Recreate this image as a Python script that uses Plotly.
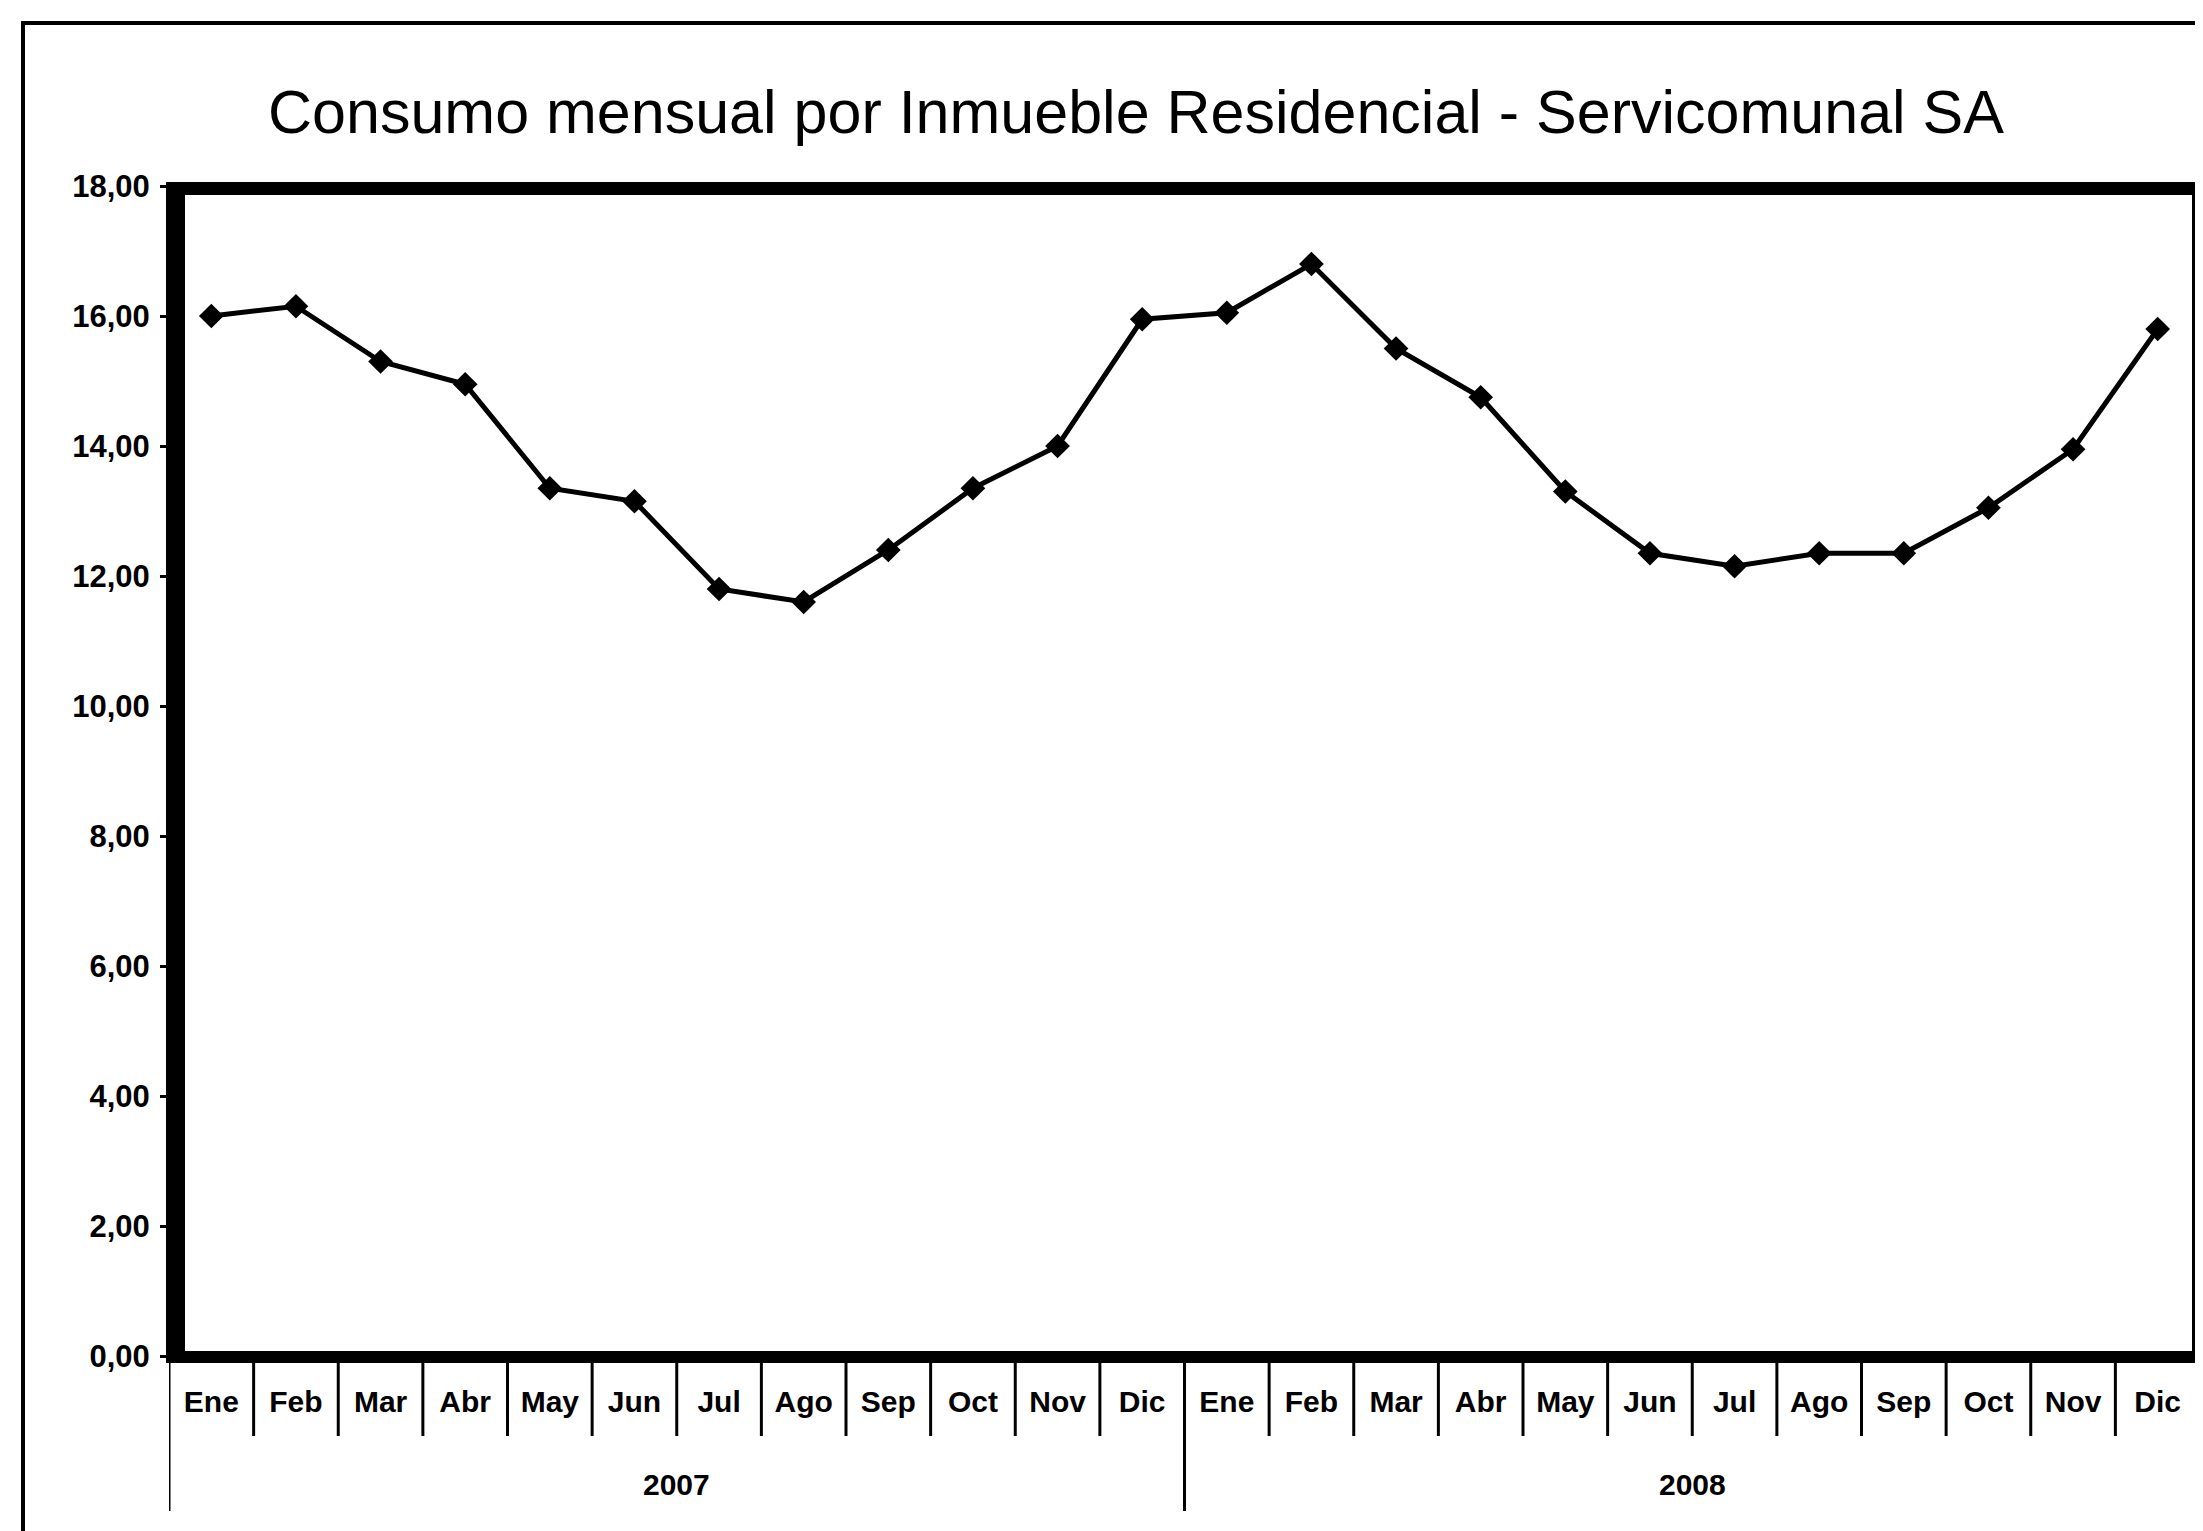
import plotly.graph_objects as go

# ---- data ----
years = ["2007", "2008"]
months = ["Ene", "Feb", "Mar", "Abr", "May", "Jun", "Jul", "Ago", "Sep", "Oct", "Nov", "Dic"]
values_2007 = [16.00, 16.15, 15.30, 14.95, 13.35, 13.15, 11.80, 11.60, 12.40, 13.35, 14.00, 15.95]
values_2008 = [16.05, 16.80, 15.50, 14.75, 13.30, 12.35, 12.15, 12.35, 12.35, 13.05, 13.95, 15.80]
y_ticks = [0, 2, 4, 6, 8, 10, 12, 14, 16, 18]
title = "Consumo mensual por Inmueble Residencial - Servicomunal SA"

series = [values_2007, values_2008]
x_labels, y_vals, x_years = [], [], []
for yr, vals in zip(years, series):
    for m, v in zip(months, vals):
        x_labels.append(m)
        y_vals.append(v)
        x_years.append(yr)
x_idx = list(range(len(y_vals)))

# ---- layout geometry (pixels) ----
W, H = 2203, 1531
L, R = 161, 2192
T, B = 178, 1348
FONT = "Liberation Sans, Arial, sans-serif"


def px(p):
    return (p - L) / (R - L)


def py(p):
    return (B - p) / (B - T)


fig = go.Figure()
fig.add_trace(go.Scatter(
    x=x_idx, y=y_vals, mode="lines+markers",
    line=dict(color="black", width=5),
    marker=dict(symbol="diamond", size=19, color="black"),
    showlegend=False, hoverinfo="skip",
))

shapes = []
# plot frame (thick borders)
for x0, x1, y0, y1 in [(158, 177, 174, 1355), (158, 2196, 174, 187),
                       (2184, 2196, 174, 1355), (158, 2196, 1343, 1355)]:
    shapes.append(dict(type="rect", xref="paper", yref="paper",
                       x0=px(x0), x1=px(x1), y0=py(y0), y1=py(y1),
                       fillcolor="black", line=dict(width=0)))
# category dividers
n = len(x_idx)
for i in range(n + 1):
    is_year = i == 0 or i == n or x_years[i] != x_years[i - 1]
    shapes.append(dict(type="line", xref="x", yref="paper",
                       x0=i - 0.5, x1=i - 0.5, y0=py(1354),
                       y1=py(1503 if is_year else 1428),
                       line=dict(color="black", width=3)))
# outer chart frame
shapes.append(dict(type="line", xref="paper", yref="paper",
                   x0=px(15), x1=px(15), y0=py(14), y1=py(1535),
                   line=dict(color="black", width=4)))
shapes.append(dict(type="line", xref="paper", yref="paper",
                   x0=px(13), x1=px(2210), y0=py(15), y1=py(15),
                   line=dict(color="black", width=4)))

annotations = []
for yr in years:
    idxs = [i for i in x_idx if x_years[i] == yr]
    annotations.append(dict(x=sum(idxs) / len(idxs), y=py(1476), xref="x", yref="paper",
                            text=yr, showarrow=False, xanchor="center", yanchor="middle",
                            font=dict(family=FONT, size=30, color="black", weight="bold")))

fig.update_layout(
    width=W, height=H,
    margin=dict(l=L, r=W - R, t=T, b=H - B, autoexpand=False),
    paper_bgcolor="white", plot_bgcolor="white",
    separators=",.",
    title=dict(text=title, x=1128 / W, xref="container", xanchor="center",
               y=1 - 104 / H, yref="container", yanchor="middle",
               font=dict(family=FONT, size=61, color="black")),
    xaxis=dict(range=[-0.5, n - 0.5], tickmode="array", tickvals=x_idx, ticktext=x_labels,
               showgrid=False, zeroline=False, showline=False, ticks="",
               ticklabelstandoff=25,
               tickfont=dict(family=FONT, size=30, color="black", weight="bold")),
    yaxis=dict(range=[0, 18], tickmode="array", tickvals=y_ticks, tickformat=".2f",
               showgrid=False, zeroline=False, showline=False,
               ticks="outside", ticklen=8, tickwidth=3, tickcolor="black",
               ticklabelstandoff=4,
               tickfont=dict(family=FONT, size=31, color="black", weight="bold")),
    shapes=shapes, annotations=annotations,
)

fig.write_html("out.html")
